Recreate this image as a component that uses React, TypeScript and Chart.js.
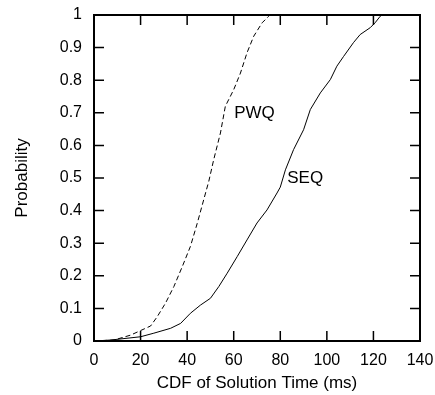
import React, { useEffect, useRef } from "react";
import { Chart, registerables } from "chart.js";

Chart.register(...registerables);

const xTickValues = [0, 20, 40, 60, 80, 100, 120, 140];
const yTickValues = [0, 0.1, 0.2, 0.3, 0.4, 0.5, 0.6, 0.7, 0.8, 0.9, 1];

const pwqX = [0, 8.6, 15.7, 20, 24.3, 27.2, 30.7, 34.3, 37.9, 41.4, 44.3, 47.1, 49.3, 51.4, 54.3, 56.4, 60, 62.9, 65.7, 68.6, 72.2, 75, 75.3];
const pwqY = [0, 0.003, 0.018, 0.032, 0.046, 0.075, 0.116, 0.167, 0.228, 0.29, 0.36, 0.433, 0.49, 0.556, 0.638, 0.72, 0.771, 0.822, 0.884, 0.935, 0.976, 0.996, 1];

const seqX = [0, 7.2, 20, 25.7, 32.9, 37.2, 41.4, 45.7, 50, 53.6, 57.2, 61.5, 65.7, 70, 74.3, 78.6, 80, 82.2, 85.7, 90, 92.9, 97.2, 101.5, 104.3, 107.2, 111.4, 114.3, 118.6, 120.7, 122.9, 123.5];
const seqY = [0, 0.003, 0.013, 0.024, 0.039, 0.054, 0.085, 0.11, 0.131, 0.167, 0.208, 0.259, 0.31, 0.362, 0.402, 0.454, 0.472, 0.525, 0.587, 0.648, 0.71, 0.761, 0.802, 0.843, 0.873, 0.915, 0.94, 0.961, 0.976, 0.996, 1];

const curveLabels = [
  { text: "PWQ", x: 60.2, y: 0.697 },
  { text: "SEQ", x: 83, y: 0.5 },
];

const FONT = "Liberation Sans, Arial, Helvetica, sans-serif";

const framePlugin = {
  id: "frameTicks",
  afterDraw(chart: any) {
    const { ctx, chartArea } = chart;
    const xs = chart.scales.x;
    const ys = chart.scales.y;
    const { left, right, top, bottom } = chartArea;
    ctx.save();
    ctx.strokeStyle = "#000";
    ctx.lineWidth = 1.5;
    const tl = 10;
    ctx.beginPath();
    xTickValues.forEach((v) => {
      const px = xs.getPixelForValue(v);
      ctx.moveTo(px, bottom);
      ctx.lineTo(px, bottom - tl);
      ctx.moveTo(px, top);
      ctx.lineTo(px, top + tl);
    });
    yTickValues.forEach((v) => {
      const py = ys.getPixelForValue(v);
      ctx.moveTo(left, py);
      ctx.lineTo(left + tl, py);
      ctx.moveTo(right, py);
      ctx.lineTo(right - tl, py);
    });
    ctx.stroke();
    ctx.lineWidth = 2;
    ctx.strokeRect(left, top, right - left, bottom - top);
    ctx.fillStyle = "#000";
    ctx.font = `17px ${FONT}`;
    ctx.textBaseline = "middle";
    ctx.textAlign = "left";
    curveLabels.forEach((l) => {
      ctx.fillText(l.text, xs.getPixelForValue(l.x), ys.getPixelForValue(l.y));
    });
    ctx.restore();
  },
};

export default function App() {
  const ref = useRef<HTMLCanvasElement>(null);
  useEffect(() => {
    const canvas = ref.current;
    if (!canvas) return;
    const chart = new Chart(canvas, {
      type: "line",
      data: {
        datasets: [
          {
            label: "PWQ",
            data: pwqX.map((x, i) => ({ x, y: pwqY[i] })),
            borderColor: "#000",
            borderWidth: 1,
            borderDash: [5, 3],
            pointRadius: 0,
            tension: 0,
            fill: false,
          },
          {
            label: "SEQ",
            data: seqX.map((x, i) => ({ x, y: seqY[i] })),
            borderColor: "#000",
            borderWidth: 1,
            pointRadius: 0,
            tension: 0,
            fill: false,
          },
        ],
      },
      options: {
        responsive: false,
        animation: false,
        devicePixelRatio: 1,
        layout: { padding: { left: 0, top: 15, right: 15, bottom: 0 } },
        plugins: {
          legend: { display: false },
          tooltip: { enabled: false },
        },
        scales: {
          x: {
            type: "linear",
            min: 0,
            max: 140,
            afterFit: (s: any) => {
              s.height = 54;
              s.paddingLeft = 0;
              s.paddingRight = 0;
            },
            afterBuildTicks: (s: any) => {
              s.ticks = xTickValues.map((v) => ({ value: v }));
            },
            grid: { display: false, drawTicks: false },
            border: { display: false },
            ticks: {
              color: "#000",
              padding: 10,
              maxRotation: 0,
              autoSkip: false,
              font: { family: FONT, size: 16 },
            },
            title: {
              display: true,
              text: "CDF of Solution Time (ms)",
              color: "#000",
              font: { family: FONT, size: 17 },
              padding: { top: 0, bottom: 1 },
            },
          },
          y: {
            type: "linear",
            min: 0,
            max: 1,
            afterFit: (s: any) => {
              s.width = 94;
              s.paddingTop = 0;
              s.paddingBottom = 0;
            },
            afterBuildTicks: (s: any) => {
              s.ticks = yTickValues.map((v) => ({ value: v }));
            },
            grid: { display: false, drawTicks: false },
            border: { display: false },
            ticks: {
              color: "#000",
              padding: 12,
              autoSkip: false,
              font: { family: FONT, size: 16 },
              callback: (v: any) => String(Math.round(Number(v) * 10) / 10),
            },
            title: {
              display: true,
              text: "Probability",
              color: "#000",
              font: { family: FONT, size: 17 },
              padding: { top: 12, bottom: 0 },
            },
          },
        },
      },
      plugins: [framePlugin],
    });
    return () => chart.destroy();
  }, []);
  return (
    <div style={{ position: "absolute", left: 0, top: 0, width: 435, height: 395, background: "#fff" }}>
      <canvas ref={ref} width={435} height={395} style={{ display: "block", width: 435, height: 395 }} />
    </div>
  );
}
